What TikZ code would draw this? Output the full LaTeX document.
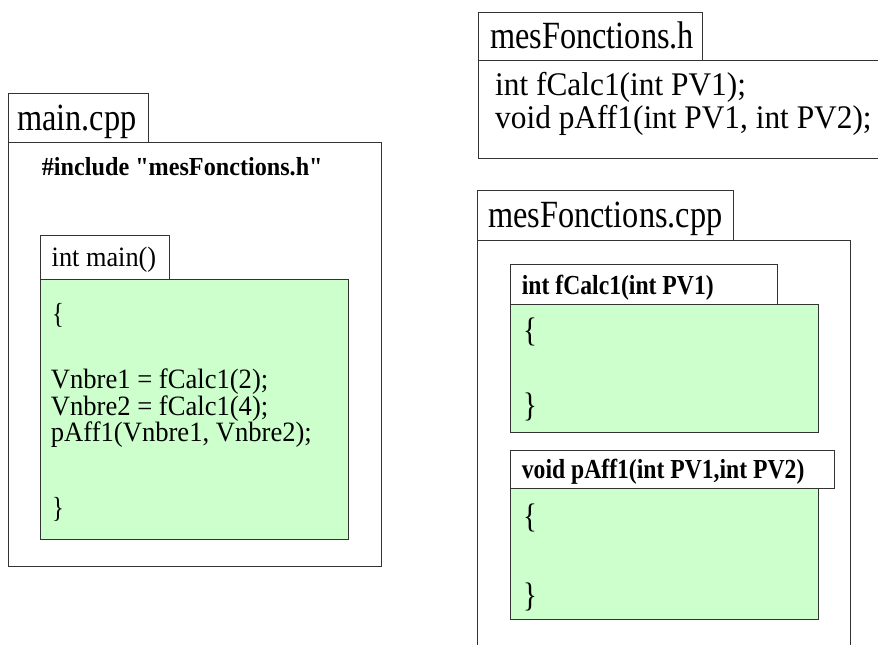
\documentclass[tikz,border=0pt]{standalone}
\usepackage{fontspec}
\setmainfont{Liberation Serif}
\newfontfamily\labf[FakeStretch=0.84]{Liberation Serif}
\newfontfamily\codef[FakeStretch=0.95]{Liberation Serif}
\newfontfamily\hf[FakeStretch=0.95]{Liberation Serif}
\newfontfamily\mainf[FakeStretch=0.94]{Liberation Serif}
\newfontfamily\inclf[FakeStretch=0.93]{Liberation Serif}
\newfontfamily\narrowf[FakeStretch=0.86]{Liberation Serif}
\newfontfamily\bracef[FakeStretch=0.85]{Liberation Serif}
\definecolor{codegreen}{HTML}{CCFFCC}
\definecolor{framegray}{HTML}{333333}
\begin{document}
\begin{tikzpicture}[x=1pt,y=-1pt,
  box/.style={draw=framegray, line width=1pt, rectangle, inner sep=0pt, anchor=north west, fill=white},
  greenbox/.style={box, fill=codegreen},
  txt/.style={inner sep=0pt, anchor=base west, text=black},
  labeltxt/.style={txt, font=\labf\fontsize{38.5}{38.5}\selectfont},
  codetxt/.style={txt, font=\codef\fontsize{28}{28}\selectfont},
  htxt/.style={txt, font=\hf\fontsize{33}{33}\selectfont},
  bracetxt/.style={txt, font=\bracef\fontsize{34}{34}\selectfont},
  mbracetxt/.style={txt, font=\bracef\fontsize{29}{29}\selectfont},
  boldtab/.style={txt, font=\narrowf\bfseries\fontsize{27.5}{27.5}\selectfont}
]
\useasboundingbox (0,0) rectangle (878,645);
\clip (0,0) rectangle (878,645);

% ---------- main.cpp ----------
\node[box, minimum width=373pt, minimum height=424pt] (mainbody) at (8,142) {};
\node[box, minimum width=140pt, minimum height=49pt] (maintab) at (8,93) {};
\node[labeltxt] (mainlbl) at (17,130) {main.cpp};
\node[txt, font=\inclf\bfseries\fontsize{26}{26}\selectfont] (incl) at (41.7,175) {\#include \char34 mesFonctions.h\char34};

\node[greenbox, minimum width=308pt, minimum height=260pt] (mainfnbody) at (40,279) {};
\node[box, minimum width=129pt, minimum height=44pt] (mainfntab) at (40,235) {};
\node[txt, font=\mainf\fontsize{28}{28}\selectfont] (mainfnlbl) at (51.5,266.7) {int main()};

\node[mbracetxt] (mob) at (52,323) {\{};
\node[codetxt] (l1) at (50.7,388.3) {Vnbre1 = fCalc1(2);};
\node[codetxt] (l2) at (50.7,415) {Vnbre2 = fCalc1(4);};
\node[codetxt] (l3) at (50.7,441.7) {pAff1(Vnbre1, Vnbre2);};
\node[mbracetxt] (mcb) at (52,517) {\}};

% ---------- mesFonctions.h ----------
\node[box, minimum width=430pt, minimum height=98pt] (hbody) at (478,60) {};
\node[box, minimum width=224pt, minimum height=48pt] (htab) at (478,12) {};
\node[labeltxt] (hlbl) at (490,48) {mesFonctions.h};
\node[htxt] (h1) at (495,95) {int fCalc1(int PV1);};
\node[htxt] (h2) at (495,128) {void pAff1(int PV1, int PV2);};

% ---------- mesFonctions.cpp ----------
\node[box, minimum width=373pt, minimum height=460pt] (cppbody) at (477,240) {};
\node[box, minimum width=256pt, minimum height=50pt] (cpptab) at (477,190) {};
\node[labeltxt] (cpplbl) at (488,227) {mesFonctions.cpp};

\node[greenbox, minimum width=308pt, minimum height=128pt] (f1body) at (510,304) {};
\node[box, minimum width=267pt, minimum height=40pt] (f1tab) at (510,264) {};
\node[boldtab] (f1lbl) at (521.7,294.3) {int fCalc1(int PV1)};
\node[bracetxt] (f1ob) at (523,341) {\{};
\node[bracetxt] (f1cb) at (523,416) {\}};

\node[greenbox, minimum width=308pt, minimum height=131pt] (f2body) at (510,488) {};
\node[box, minimum width=324pt, minimum height=38pt] (f2tab) at (510,450) {};
\node[boldtab] (f2lbl) at (521.7,478.3) {void pAff1(int PV1,int PV2)};
\node[bracetxt] (f2ob) at (523,527) {\{};
\node[bracetxt] (f2cb) at (523,606) {\}};
\end{tikzpicture}
\end{document}
